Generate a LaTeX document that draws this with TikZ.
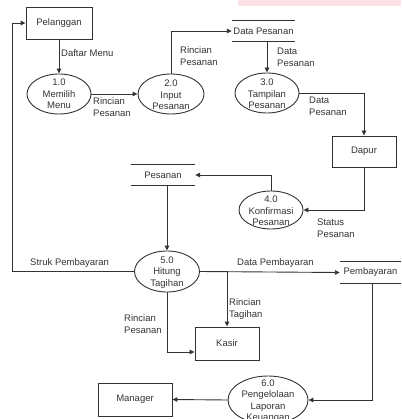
\documentclass[tikz,border=0pt]{standalone}
\usepackage{fontspec}
\setmainfont{Liberation Sans}
\usetikzlibrary{arrows.meta,calc,shapes.geometric}
\definecolor{ink}{HTML}{333333}
\definecolor{band}{HTML}{FCE1E6}
\begin{document}
\begin{tikzpicture}[x=1pt,y=-1pt,
  every node/.style={font=\fontsize{9.5}{11.5}\selectfont, text=ink},
  ent/.style={draw=ink, line width=0.9pt, rectangle, inner sep=0pt},
  proc/.style={draw=ink, line width=0.9pt, ellipse, inner sep=0pt},
  store/.style={inner sep=0pt, minimum height=20pt},
  lbl/.style={anchor=west, align=left, inner sep=0pt},
  flow/.style={draw=ink, line width=0.9pt, -{Triangle[length=5pt,width=4.5pt]}},
  line/.style={draw=ink, line width=0.9pt}]
\useasboundingbox (0,0) rectangle (401,419);
\clip (0,0) rectangle (401,419);
\fill[band] (238,0) rectangle (401,6.5);

% entities
\node[ent, minimum width=66pt, minimum height=32pt] (P) at (59,23) {Pelanggan};
\node[ent, minimum width=64pt, minimum height=31pt] (D) at (364,151.5) {Dapur};
\node[ent, minimum width=64pt, minimum height=33pt] (K) at (227,343.5) {Kasir};
\node[ent, minimum width=74pt, minimum height=33pt] (M) at (135,399.5) {Manager};

% processes
\node[proc, minimum width=64pt, minimum height=40pt,
  label={[align=center]center:1.0\\Memilih\\Menu}] (e1) at (59,94) {};
\node[proc, minimum width=66pt, minimum height=40pt,
  label={[align=center, yshift=-1pt]center:2.0\\Input\\Pesanan}] (e2) at (171,94) {};
\node[proc, minimum width=64pt, minimum height=40pt,
  label={[align=center, yshift=-1pt]center:3.0\\Tampilan\\Pesanan}] (e3) at (267,93) {};
\node[proc, minimum width=64pt, minimum height=38pt,
  label={[align=center, yshift=-1pt]center:4.0\\Konfirmasi\\Pesanan}] (e4) at (271,210) {};
\node[proc, minimum width=65pt, minimum height=41pt,
  label={[align=center, yshift=-1pt]center:5.0\\Hitung\\Tagihan}] (e5) at (167,271.5) {};
\node[proc, minimum width=80pt, minimum height=48pt,
  label={[align=center, yshift=-1pt]center:6.0\\Pengelolaan\\Laporan\\Keuangan}] (e6) at (268,400) {};

% data stores
\node[store, minimum width=63pt] (s1) at (263.5,31) {Data Pesanan};
\node[store, minimum width=64pt] (s2) at (163,175) {Pesanan};
\node[store, minimum width=61pt, minimum height=21pt] (s3) at (370.5,272.5) {Pembayaran};
\foreach \s in {s1,s2,s3}{
  \draw[line] (\s.north west) -- (\s.north east);
  \draw[line] (\s.south west) -- (\s.south east);
}

\coordinate (cL) at (12,271.5);

% flows
\draw[flow] (P.south) -- (e1.north);
\draw[flow] (e1.east) -- (e2.west);
\draw[flow] (e2.north) |- (s1.west);
\draw[flow] (e3.north |- s1.south) -- (e3.north);
\draw[flow] (e3.east) -| (D.north);
\draw[flow] (D.south) |- (e4.east);
\draw[flow] (e4.north) |- (s2.east);
\draw[flow] (e5.north |- s2.south) -- (e5.north);
\draw[flow] (e5.west) -- (cL) |- (P.west);
\draw[flow] (e5.east) -- (s3.west);
\draw[flow] (K.north |- e5.east) -- (K.north);
\draw[flow] (e5.south) |- ([yshift=-8.5pt]K.west);
\draw[flow] ([xshift=1.5pt]s3.south) |- (e6.east);
\draw[flow] (e6.west) -- (M.east);

% labels
\node[lbl] (l1) at (61,53) {Daftar Menu};
\node[lbl] (l2) at (93,107) {Rincian\\Pesanan};
\node[lbl] (l3) at (180,56) {Rincian\\Pesanan};
\node[lbl] (l4) at (277,57.5) {Data\\Pesanan};
\node[lbl] (l5) at (309,106.5) {Data\\Pesanan};
\node[lbl] (l6) at (317,228) {Status\\Pesanan};
\node[lbl] (l7) at (30,263) {Struk Pembayaran};
\node[lbl] (l8) at (237,263) {Data Pembayaran};
\node[lbl] (l9) at (229,309) {Rincian\\Tagihan};
\node[lbl] (l10) at (124,324) {Rincian\\Pesanan};
\end{tikzpicture}
\end{document}
